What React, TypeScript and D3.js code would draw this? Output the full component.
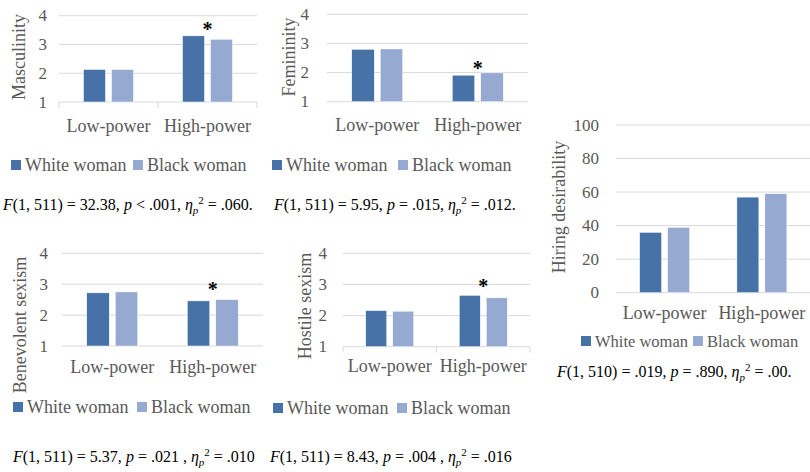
import React from "react";
import * as d3 from "d3";

// ---------- data ----------
const categories = ["Low-power", "High-power"];
const seriesNames = ["White woman", "Black woman"];
const seriesColors = ["#4672A8", "#95A9D1"];

const masculinityWhite = [2.13, 3.3];
const masculinityBlack = [2.13, 3.18];
const femininityWhite = [2.8, 1.91];
const femininityBlack = [2.81, 1.99];
const benevolentWhite = [2.72, 2.46];
const benevolentBlack = [2.75, 2.5];
const hostileWhite = [2.16, 2.65];
const hostileBlack = [2.14, 2.57];
const hiringWhite = [36, 57];
const hiringBlack = [39, 59];

const ratingTicks = [1, 2, 3, 4];
const hiringTicks = [0, 20, 40, 60, 80, 100];

type Seg = { t: string; i?: boolean; sub?: boolean; sup?: boolean };
const statsMasculinity: Seg[] = [
  { t: "F", i: true }, { t: "(1, 511) = 32.38, " }, { t: "p", i: true }, { t: " < .001, " },
  { t: "η", i: true }, { t: "p", i: true, sub: true }, { t: "2", sup: true }, { t: " = .060." },
];
const statsFemininity: Seg[] = [
  { t: "F", i: true }, { t: "(1, 511) = 5.95, " }, { t: "p", i: true }, { t: " = .015, " },
  { t: "η", i: true }, { t: "p", i: true, sub: true }, { t: "2", sup: true }, { t: " = .012." },
];
const statsBenevolent: Seg[] = [
  { t: "F", i: true }, { t: "(1, 511) = 5.37, " }, { t: "p", i: true }, { t: " = .021 , " },
  { t: "η", i: true }, { t: "p", i: true, sub: true }, { t: "2", sup: true }, { t: " = .010" },
];
const statsHostile: Seg[] = [
  { t: "F", i: true }, { t: "(1, 511) = 8.43, " }, { t: "p", i: true }, { t: " = .004 , " },
  { t: "η", i: true }, { t: "p", i: true, sub: true }, { t: "2", sup: true }, { t: " = .016" },
];
const statsHiring: Seg[] = [
  { t: "F", i: true }, { t: "(1, 510) = .019, " }, { t: "p", i: true }, { t: " = .890, " },
  { t: "η", i: true }, { t: "p", i: true, sub: true }, { t: "2", sup: true }, { t: " = .00." },
];

// ---------- layout ----------
const FONT = "Liberation Serif, DejaVu Serif, Times New Roman, serif";
const GRAY = "#595959";
const GRID = "#D9D9D9";
const fontStyle = (size: number, extra: React.CSSProperties = {}): React.CSSProperties => ({
  fontFamily: FONT,
  fontSize: `${size}px`,
  ...extra,
});

type Panel = {
  label: string;
  white: number[];
  black: number[];
  domain: [number, number];
  ticks: number[];
  x0: number; x1: number; yBottom: number; yTop: number;
  groupW: number; barGap: number;
  tickEnd: number;
  labelX: number; labelY: number;
  catY: number;
  axisTicks: boolean;
  star: number | null; starOffset: number;
  legendX: number; legendY: number; legend2X: number; legendFont: number;
  stats: Seg[]; statsX: number; statsY: number;
};

const panels: Panel[] = [
  {
    label: "Masculinity", white: masculinityWhite, black: masculinityBlack,
    domain: [1, 4], ticks: ratingTicks,
    x0: 59, x1: 257, yBottom: 102, yTop: 15.7, groupW: 50, barGap: 6,
    tickEnd: 47, labelX: 19, labelY: 57, catY: 132, axisTicks: true,
    star: 1, starOffset: 10,
    legendX: 11, legendY: 165, legend2X: 133, legendFont: 18,
    stats: statsMasculinity, statsX: 3, statsY: 210,
  },
  {
    label: "Femininity", white: femininityWhite, black: femininityBlack,
    domain: [1, 4], ticks: ratingTicks,
    x0: 327, x1: 528, yBottom: 101.7, yTop: 14.3, groupW: 51, barGap: 6,
    tickEnd: 309, labelX: 289, labelY: 57, catY: 131, axisTicks: false,
    star: 1, starOffset: 8,
    legendX: 272, legendY: 165, legend2X: 398, legendFont: 18,
    stats: statsFemininity, statsX: 274, statsY: 210,
  },
  {
    label: "Benevolent sexism", white: benevolentWhite, black: benevolentBlack,
    domain: [1, 4], ticks: ratingTicks,
    x0: 62, x1: 263, yBottom: 346, yTop: 253.3, groupW: 51, barGap: 6,
    tickEnd: 48, labelX: 20, labelY: 325, catY: 373, axisTicks: false,
    star: 1, starOffset: 14,
    legendX: 13, legendY: 407, legend2X: 137, legendFont: 18,
    stats: statsBenevolent, statsX: 13, statsY: 462,
  },
  {
    label: "Hostile sexism", white: hostileWhite, black: hostileBlack,
    domain: [1, 4], ticks: ratingTicks,
    x0: 343, x1: 530, yBottom: 346.7, yTop: 253.3, groupW: 48, barGap: 6,
    tickEnd: 327, labelX: 305, labelY: 306, catY: 372, axisTicks: true,
    star: 1, starOffset: 12,
    legendX: 273, legendY: 408, legend2X: 397, legendFont: 18,
    stats: statsHostile, statsX: 270, statsY: 462,
  },
  {
    label: "Hiring desirability", white: hiringWhite, black: hiringBlack,
    domain: [0, 100], ticks: hiringTicks,
    x0: 616, x1: 810.5, yBottom: 292.7, yTop: 125, groupW: 50, barGap: 6,
    tickEnd: 599, labelX: 559, labelY: 207, catY: 319, axisTicks: false,
    star: null, starOffset: 0,
    legendX: 581, legendY: 341, legend2X: 693, legendFont: 16.5,
    stats: statsHiring, statsX: 557, statsY: 377,
  },
];

function StatsText({ x, y, segs }: { x: number; y: number; segs: Seg[] }) {
  let shift = 0;
  return (
    <text x={x} y={y} style={fontStyle(16)} fill="#000">
      {segs.map((s, i) => {
        const target = s.sub ? 4 : s.sup ? -6 : 0;
        const dy = target - shift;
        shift = target;
        return (
          <tspan key={i} dy={dy} style={{ fontStyle: s.i ? "italic" : "normal", fontSize: s.sub || s.sup ? "11px" : "16px" }}>
            {s.t}
          </tspan>
        );
      })}
    </text>
  );
}

function ChartPanel({ p }: { p: Panel }) {
  const x = d3.scaleBand<string>().domain(categories).range([p.x0, p.x1]).paddingInner(0).paddingOuter(0);
  const y = d3.scaleLinear().domain(p.domain).range([p.yBottom, p.yTop]);
  const barW = (p.groupW - p.barGap) / 2;
  const inner = d3
    .scaleBand<string>()
    .domain(seriesNames)
    .range([0, p.groupW])
    .paddingInner(p.barGap / (barW + p.barGap))
    .paddingOuter(0);
  const groupStart = (c: string) => (x(c) as number) + (x.bandwidth() - p.groupW) / 2;
  const seriesValues = [p.white, p.black];
  const tickXs = [p.x0, ...categories.slice(1).map((c) => x(c) as number), p.x1];

  return (
    <g>
      {p.ticks.map((t) => (
        <line key={t} x1={p.x0} x2={p.x1} y1={y(t)} y2={y(t)} stroke={GRID} strokeWidth={1} />
      ))}
      {p.axisTicks &&
        tickXs.map((tx, i) => (
          <line key={i} x1={tx} x2={tx} y1={p.yBottom} y2={p.yBottom + 6} stroke={GRID} strokeWidth={1} />
        ))}
      {p.ticks.map((t) => (
        <text key={t} x={p.tickEnd} y={y(t)} textAnchor="end" dominantBaseline="central"
          style={fontStyle(17)} fill={GRAY}>
          {t}
        </text>
      ))}
      {categories.map((c, ci) =>
        seriesNames.map((s, si) => {
          const v = seriesValues[si][ci];
          const bx = groupStart(c) + (inner(s) as number);
          return (
            <rect key={c + s} x={bx} y={y(v)} width={inner.bandwidth()} height={y(p.domain[0]) - y(v)}
              fill={seriesColors[si]} stroke="#fff" strokeWidth={0.5} />
          );
        })
      )}
      {p.star !== null && (() => {
        const c = categories[p.star as number];
        const top = Math.max(p.white[p.star as number], p.black[p.star as number]);
        const cx = (x(c) as number) + x.bandwidth() / 2;
        return (
          <text x={cx} y={y(top) - p.starOffset + 10} textAnchor="middle"
            style={fontStyle(20, { fontWeight: "bold" })} fill="#000">
            *
          </text>
        );
      })()}
      {categories.map((c) => (
        <text key={c} x={(x(c) as number) + x.bandwidth() / 2} y={p.catY} textAnchor="middle"
          style={fontStyle(18)} fill={GRAY}>
          {c}
        </text>
      ))}
      <text transform={`translate(${p.labelX},${p.labelY}) rotate(-90)`} textAnchor="middle"
        dominantBaseline="central" style={fontStyle(18)} fill={GRAY}>
        {p.label}
      </text>
      {seriesNames.map((s, si) => {
        const lx = si === 0 ? p.legendX : p.legend2X;
        return (
          <g key={s}>
            <rect x={lx} y={p.legendY - 5} width={10} height={10} fill={seriesColors[si]} />
            <text x={lx + 14} y={p.legendY} dominantBaseline="central" style={fontStyle(p.legendFont)} fill={GRAY}>
              {s}
            </text>
          </g>
        );
      })}
      <StatsText x={p.statsX} y={p.statsY} segs={p.stats} />
    </g>
  );
}

export default function App() {
  return (
    <svg width={810} height={472} style={{ position: "absolute", left: 0, top: 0, background: "#fff" }}>
      <rect x={0} y={0} width={810} height={472} fill="#fff" />
      {panels.map((p) => (
        <ChartPanel key={p.label} p={p} />
      ))}
    </svg>
  );
}
